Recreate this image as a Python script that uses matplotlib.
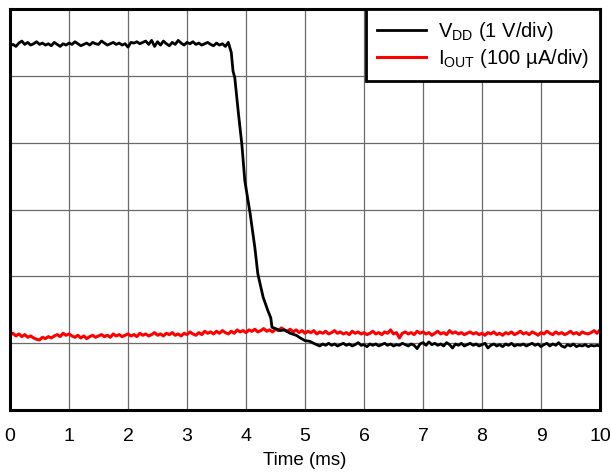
import numpy as np
import matplotlib
matplotlib.use('Agg')
import matplotlib.pyplot as plt

plt.rcParams['font.family'] = ['Liberation Sans', 'DejaVu Sans']
plt.rcParams['mathtext.fontset'] = 'custom'
plt.rcParams['mathtext.rm'] = 'Liberation Sans'

# VDD trace (divisions), high plateau 0 .. 3.70 ms every 0.05 ms
vdd_hi = [5.45, 5.47, 5.44, 5.49, 5.52, 5.47, 5.50, 5.46, 5.48, 5.51,
          5.47, 5.49, 5.46, 5.48, 5.45, 5.50, 5.47, 5.44, 5.48, 5.46,
          5.49, 5.47, 5.51, 5.48, 5.45, 5.47, 5.49, 5.46, 5.50, 5.48,
          5.47, 5.52, 5.49, 5.46, 5.48, 5.50, 5.47, 5.49, 5.46, 5.48,
          5.43, 5.50, 5.49, 5.51, 5.48, 5.50, 5.52, 5.47, 5.53, 5.44,
          5.51, 5.46, 5.52, 5.48, 5.45, 5.50, 5.47, 5.53, 5.49, 5.46,
          5.50, 5.48, 5.51, 5.47, 5.49, 5.46, 5.48, 5.50, 5.47, 5.45,
          5.49, 5.46, 5.48, 5.44, 5.50]
# falling edge
fall_t = [3.75, 3.78, 3.81, 3.87, 3.93, 3.98, 4.07, 4.15, 4.20, 4.29, 4.37,
          4.42, 4.44, 4.50, 4.58, 4.65, 4.75, 4.85, 4.92, 5.00, 5.08, 5.17]
fall_v = [5.35, 5.07, 4.97, 4.45, 3.97, 3.43, 2.94, 2.43, 2.04, 1.69, 1.49,
          1.38, 1.24, 1.22, 1.19, 1.20, 1.15, 1.12, 1.08, 1.04, 1.03, 0.99]
# low plateau 5.20 .. 10.00 ms every 0.05 ms
vdd_lo = [0.98, 0.96, 0.99, 0.97, 1.00, 0.97, 0.99, 0.96, 0.98, 1.00,
          0.97, 0.99, 0.96, 0.98, 1.01, 0.97, 0.98, 0.95, 0.99, 0.97,
          0.99, 0.96, 0.98, 1.00, 0.97, 0.99, 0.96, 0.98, 0.97, 1.00,
          0.98, 0.96, 0.99, 0.97, 0.92, 0.99, 1.01, 0.97, 1.02, 0.98,
          1.00, 0.97, 0.99, 0.96, 1.01, 0.98, 0.93, 0.99, 0.97, 1.00,
          0.96, 0.98, 1.00, 0.97, 0.99, 0.96, 0.98, 1.00, 0.93, 0.97,
          0.99, 0.96, 0.98, 0.95, 0.99, 0.97, 1.00, 0.96, 0.98, 0.97,
          0.99, 0.96, 0.98, 1.00, 0.97, 0.99, 0.95, 0.98, 1.00, 0.96,
          0.99, 0.97, 1.01, 0.96, 0.94, 0.98, 0.96, 0.99, 0.95, 0.97,
          0.96, 0.98, 0.95, 0.97, 0.96, 0.97, 0.96]

# IOUT trace (divisions), 0 .. 10 ms every 0.05 ms
iout = [1.12, 1.15, 1.11, 1.14, 1.10, 1.13, 1.09, 1.11, 1.08, 1.06,
        1.05, 1.09, 1.07, 1.10, 1.08, 1.11, 1.13, 1.10, 1.15, 1.12,
        1.14, 1.11, 1.09, 1.12, 1.08, 1.11, 1.07, 1.10, 1.12, 1.09,
        1.11, 1.13, 1.10, 1.12, 1.09, 1.14, 1.11, 1.13, 1.10, 1.12,
        1.14, 1.11, 1.13, 1.10, 1.15, 1.12, 1.14, 1.11, 1.13, 1.16,
        1.12, 1.14, 1.11, 1.15, 1.13, 1.16, 1.12, 1.14, 1.11, 1.15,
        1.13, 1.17, 1.14, 1.12, 1.16, 1.13, 1.18, 1.15, 1.17, 1.14,
        1.18, 1.15, 1.19, 1.16, 1.14, 1.18, 1.15, 1.20, 1.17, 1.19,
        1.16, 1.20, 1.18, 1.21, 1.17, 1.19, 1.22, 1.18, 1.20, 1.17,
        1.21, 1.19, 1.23, 1.20, 1.18, 1.21, 1.17, 1.20, 1.16, 1.19,
        1.15, 1.18, 1.16, 1.19, 1.14, 1.17, 1.15, 1.18, 1.14, 1.16,
        1.19, 1.15, 1.17, 1.14, 1.16, 1.13, 1.18, 1.15, 1.17, 1.14,
        1.16, 1.13, 1.15, 1.18, 1.14, 1.16, 1.13, 1.17, 1.15, 1.20,
        1.14, 1.16, 1.08, 1.15, 1.17, 1.14, 1.16, 1.13, 1.18, 1.15,
        1.17, 1.14, 1.16, 1.12, 1.15, 1.18, 1.14, 1.16, 1.13, 1.19,
        1.15, 1.17, 1.14, 1.16, 1.13, 1.15, 1.17, 1.14, 1.16, 1.13,
        1.15, 1.12, 1.16, 1.14, 1.17, 1.13, 1.15, 1.12, 1.16, 1.14,
        1.17, 1.13, 1.15, 1.18, 1.14, 1.16, 1.13, 1.17, 1.15, 1.12,
        1.16, 1.14, 1.18, 1.15, 1.13, 1.17, 1.14, 1.16, 1.13, 1.15,
        1.18, 1.14, 1.16, 1.13, 1.17, 1.15, 1.14, 1.16, 1.19, 1.15,
        1.20]

x_ticks = list(range(0, 11))

t_hi = np.linspace(0, 3.70, len(vdd_hi))
t_lo = np.linspace(5.20, 10.0, len(vdd_lo))
t_vdd = np.concatenate([t_hi, fall_t, t_lo])
vdd = np.concatenate([vdd_hi, fall_v, vdd_lo])
t_iout = np.linspace(0, 10.0, len(iout))

fig = plt.figure(figsize=(6.11, 4.72), dpi=100)
ax = fig.add_axes([0.0164, 0.131, 0.9656, 0.850])

ax.plot(t_iout, iout, color='red', lw=2.2, label=u'I$_{\\mathregular{OUT}}$ (100 \u00b5A/div)')
ax.plot(t_vdd, vdd, color='black', lw=2.0, label='V$_{\\mathregular{DD}}$ (1 V/div)')

ax.set_xlim(0, 10)
ax.set_ylim(0, 6)
ax.set_xticks(x_ticks)
ax.set_yticks(range(0, 7))
ax.set_yticklabels([])
ax.tick_params(length=0, labelsize=14, pad=13)
ax.grid(True, color='#6a6a6a', lw=0.9)
ax.set_axisbelow(True)
for s in ax.spines.values():
    s.set_linewidth(2.2)
ax.set_xlabel('Time (ms)', fontsize=13.5, labelpad=5)

h, l = ax.get_legend_handles_labels()
leg = ax.legend(h[::-1], l[::-1], loc='upper right', borderaxespad=0, fontsize=14.5,
                fancybox=False, handlelength=2.4, labelspacing=0.2,
                borderpad=0.55, handletextpad=0.6)
leg.get_frame().set_edgecolor('black')
leg.get_frame().set_linewidth(2.0)
leg.get_frame().set_alpha(1)

fig.savefig('out.png', dpi=100)
